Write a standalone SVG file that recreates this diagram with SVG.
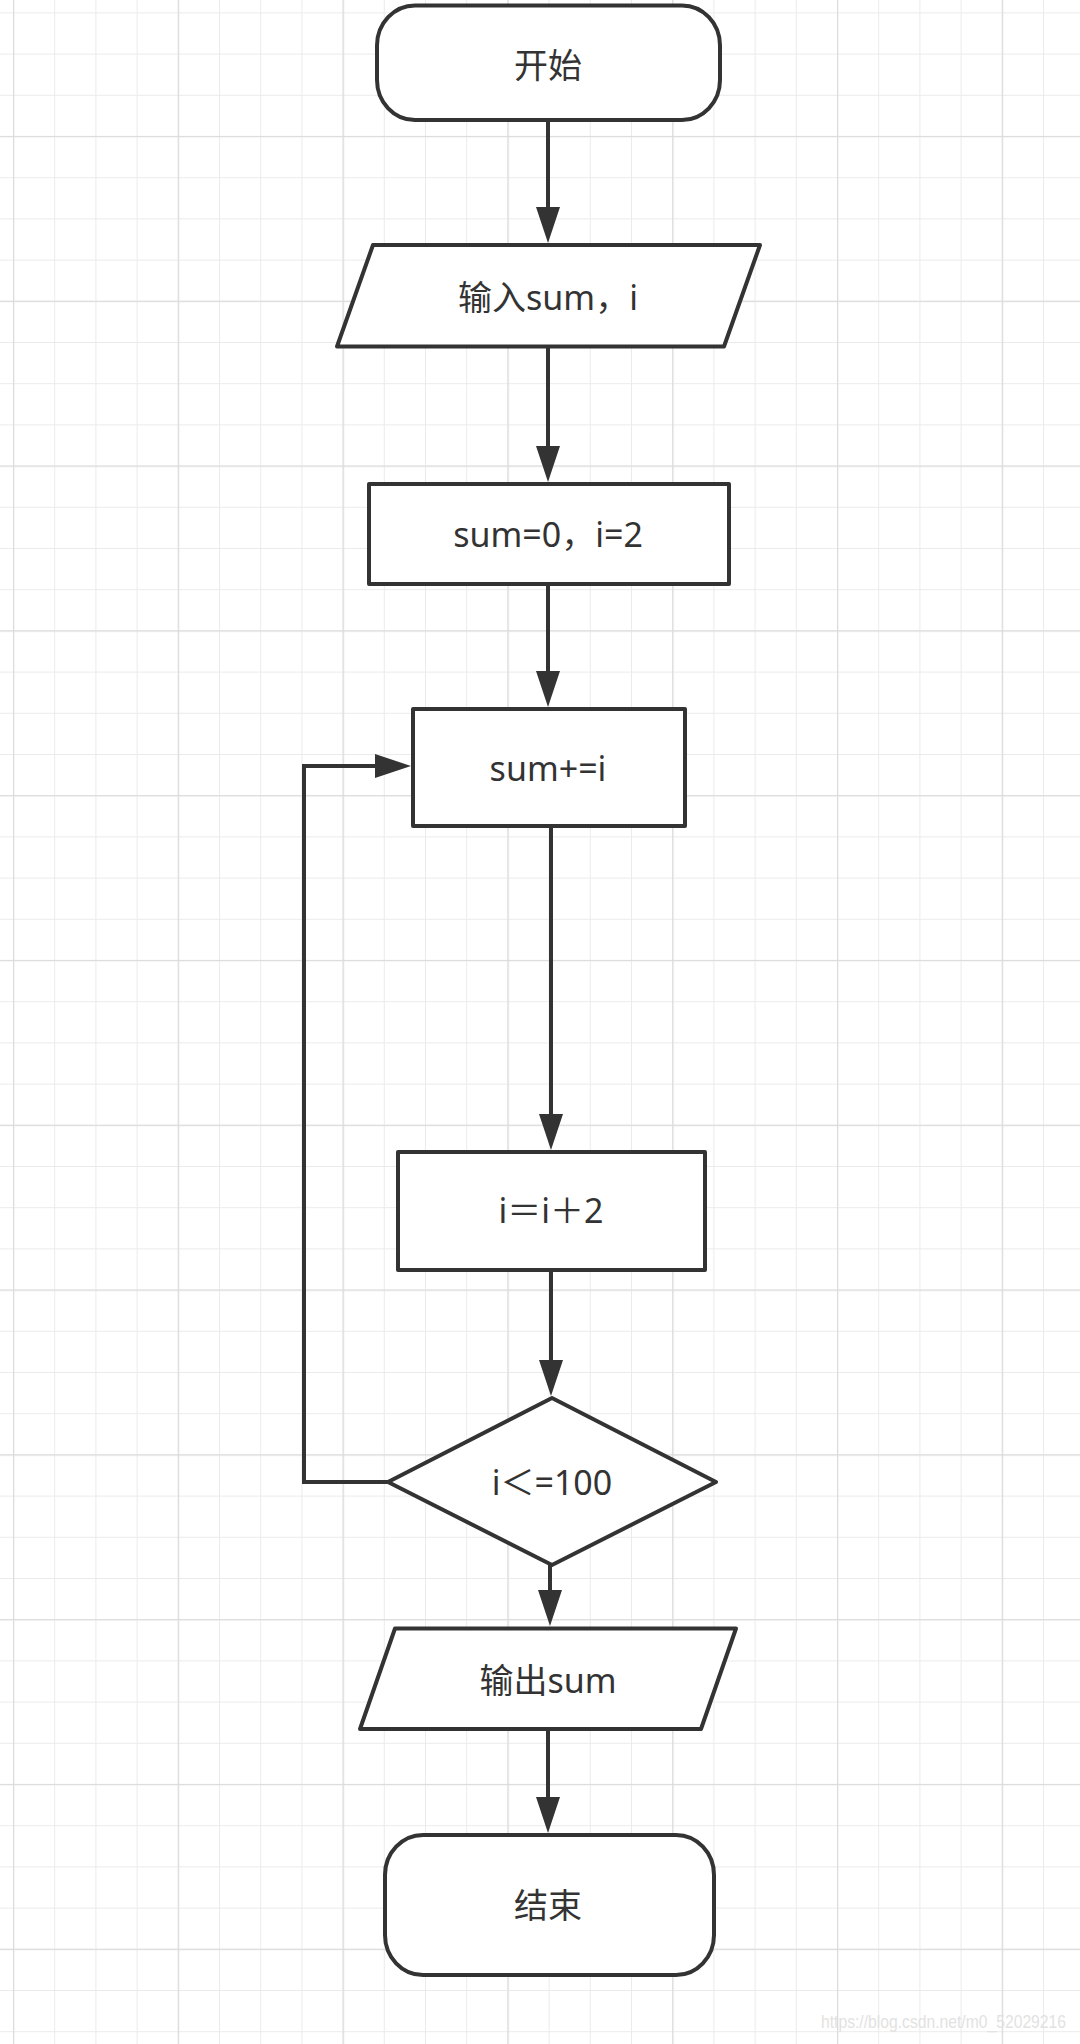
<svg xmlns="http://www.w3.org/2000/svg" width="1080" height="2044" viewBox="0 0 1080 2044">
  <defs>
    <pattern id="minor" x="13" y="12.4" width="41.2" height="41.2" patternUnits="userSpaceOnUse">
      <path d="M0,0 V41.2 M0,0 H41.2" stroke="#ebebeb" stroke-width="2" fill="none"/>
    </pattern>
    <pattern id="major" x="13" y="-28.9" width="164.8" height="164.8" patternUnits="userSpaceOnUse">
      <path d="M0,0 V164.8 M0,0 H164.8" stroke="#dcdcdc" stroke-width="2.6" fill="none"/>
    </pattern>
    <marker id="arrow" markerUnits="userSpaceOnUse" markerWidth="36" markerHeight="24" refX="0" refY="12" orient="auto" overflow="visible">
      <path d="M0,0 L36,12 L0,24 Z" fill="#333"/>
    </marker>
  </defs>
  <style>
    .shape { fill: #ffffff; stroke: #333333; stroke-width: 4; stroke-linejoin: round; }
    .label { font-family: "Noto Sans", "Noto Sans CJK SC", sans-serif; font-size: 34px; fill: #333333; text-anchor: middle; }
    .edge { fill: none; stroke: #333333; stroke-width: 4; }
  </style>

  <rect x="0" y="0" width="1080" height="2044" fill="#ffffff"/>
  <rect x="0" y="0" width="1080" height="2044" fill="url(#minor)"/>
  <rect x="0" y="0" width="1080" height="2044" fill="url(#major)"/>

  <g id="connectors">
    <line class="edge" x1="548" y1="120" x2="548" y2="207" marker-end="url(#arrow)"/>
    <line class="edge" x1="548" y1="346" x2="548" y2="446" marker-end="url(#arrow)"/>
    <line class="edge" x1="548" y1="584" x2="548" y2="671" marker-end="url(#arrow)"/>
    <line class="edge" x1="551" y1="826" x2="551" y2="1114" marker-end="url(#arrow)"/>
    <line class="edge" x1="551" y1="1270" x2="551" y2="1360" marker-end="url(#arrow)"/>
    <polyline class="edge" points="388,1482 304,1482 304,766 375,766" marker-end="url(#arrow)"/>
    <line class="edge" x1="550" y1="1565" x2="550" y2="1590" marker-end="url(#arrow)"/>
    <line class="edge" x1="548" y1="1729" x2="548" y2="1797" marker-end="url(#arrow)"/>
  </g>

  <g id="start">
    <rect class="shape" x="377" y="5.5" width="343" height="114.5" rx="38" ry="40"/>
    <text class="label" x="548" y="78">开始</text>
  </g>

  <g id="input">
    <polygon class="shape" points="373,245 760,245 724,346.5 337,346.5"/>
    <text class="label" x="548" y="310">输入sum，i</text>
  </g>

  <g id="init">
    <rect class="shape" x="369" y="484" width="360" height="100"/>
    <text class="label" x="548" y="547">sum=0，i=2</text>
  </g>

  <g id="accumulate">
    <rect class="shape" x="413" y="709" width="272" height="117"/>
    <text class="label" x="548" y="781">sum+=i</text>
  </g>

  <g id="increment">
    <rect class="shape" x="398" y="1152" width="307" height="118"/>
    <text class="label" x="551" y="1223">i＝i＋2</text>
  </g>

  <g id="condition">
    <polygon class="shape" points="552,1398 716,1482 552,1565 388,1482"/>
    <text class="label" x="552" y="1495">i＜=100</text>
  </g>

  <g id="output">
    <polygon class="shape" points="395,1628.5 736,1628.5 701,1729 360,1729"/>
    <text class="label" x="548" y="1693">输出sum</text>
  </g>

  <g id="end">
    <rect class="shape" x="385" y="1835" width="329" height="140" rx="38" ry="40"/>
    <text class="label" x="548" y="1918">结束</text>
  </g>

  <text x="1066" y="2028" font-family="Liberation Sans, sans-serif" font-size="19" fill="#e2e2e2" text-anchor="end" textLength="245" lengthAdjust="spacingAndGlyphs">https://blog.csdn.net/m0_52029216</text>
</svg>
